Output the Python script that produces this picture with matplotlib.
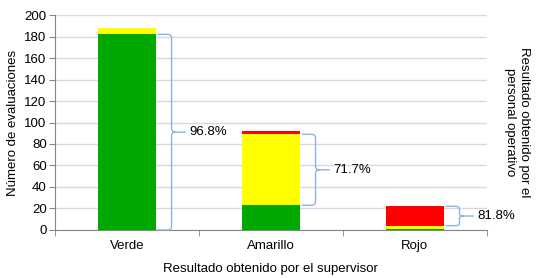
import matplotlib
matplotlib.use('Agg')
import matplotlib.pyplot as plt
from matplotlib.path import Path
from matplotlib.patches import PathPatch

plt.rcParams['font.family'] = ['Liberation Sans', 'DejaVu Sans']

categories = ['Verde', 'Amarillo', 'Rojo']
verde = [182, 23, 1]
amarillo = [6, 66, 3]
rojo = [0, 3, 18]
pct_labels = ['96.8%', '71.7%', '81.8%']

GREEN = '#00A800'
YELLOW = '#FFFF00'
RED = '#FF0000'
BRACE = '#8DB3E2'


def brace(ax, x0, y_bot, y_top, label, ry=3.5):
    # curly brace to the right of a bar, with a leader line to the label
    xv = x0 + 0.095
    rx = 0.028
    ym = (y_bot + y_top) / 2
    verts = [(x0, y_top), (xv - rx, y_top), (xv, y_top), (xv, y_top - ry),
             (xv, ym + ry), (xv, ym), (xv + rx, ym),
             (xv, ym), (xv, ym - ry),
             (xv, y_bot + ry), (xv, y_bot), (xv - rx, y_bot), (x0, y_bot),
             (xv + rx, ym), (xv + 0.1, ym)]
    codes = [Path.MOVETO, Path.LINETO, Path.CURVE3, Path.CURVE3,
             Path.LINETO, Path.CURVE3, Path.CURVE3,
             Path.CURVE3, Path.CURVE3,
             Path.LINETO, Path.CURVE3, Path.CURVE3, Path.LINETO,
             Path.MOVETO, Path.LINETO]
    ax.add_patch(PathPatch(Path(verts, codes), fill=False, edgecolor=BRACE,
                           lw=1.0, clip_on=False, zorder=4))
    ax.text(xv + 0.125, ym, label, ha='left', va='center', fontsize=9.5)


fig = plt.figure(figsize=(5.47, 2.78), dpi=100)
ax = fig.add_axes([0.1005, 0.1727, 0.7895, 0.7733])

x = list(range(len(categories)))
w = 0.4
ax.bar(x, verde, w, color=GREEN, zorder=3)
ax.bar(x, amarillo, w, bottom=verde, color=YELLOW, zorder=3)
bottoms = [a + b for a, b in zip(verde, amarillo)]
ax.bar(x, rojo, w, bottom=bottoms, color=RED, zorder=3)

# braces around the matching portion of each bar
brace(ax, w / 2 + 0.015, 0, verde[0], pct_labels[0])
brace(ax, 1 + w / 2 + 0.015, verde[1], verde[1] + amarillo[1], pct_labels[1])
brace(ax, 2 + w / 2 + 0.015, verde[2] + amarillo[2],
      verde[2] + amarillo[2] + rojo[2], pct_labels[2], ry=2.5)

ax.set_xlim(-0.5, 2.5)
ax.set_ylim(0, 200)
ax.set_yticks(range(0, 201, 20))
ax.set_xticks(x)
ax.set_xticklabels(categories, fontsize=9.5)
ax.set_xticks([-0.5, 0.5, 1.5, 2.5], minor=True)
ax.tick_params(axis='x', which='major', length=0, pad=7)
ax.tick_params(axis='x', which='minor', length=4, color='#868686')
ax.tick_params(axis='y', labelsize=9.5, length=4, color='#868686', pad=2)
ax.grid(axis='y', color='#D9D9D9', lw=1, zorder=0)
for s in ['top', 'right']:
    ax.spines[s].set_visible(False)
for s in ['left', 'bottom']:
    ax.spines[s].set_color('#868686')

ax.set_xlabel('Resultado obtenido por el supervisor', fontsize=9.5, labelpad=8)
ax.set_ylabel('Número de evaluaciones', fontsize=9.5, labelpad=4)
fig.text(0.945, 0.56, 'Resultado obtenido por el\npersonal operativo',
         rotation=-90, ha='center', va='center', fontsize=9.5)

fig.savefig('out.png', dpi=100)
